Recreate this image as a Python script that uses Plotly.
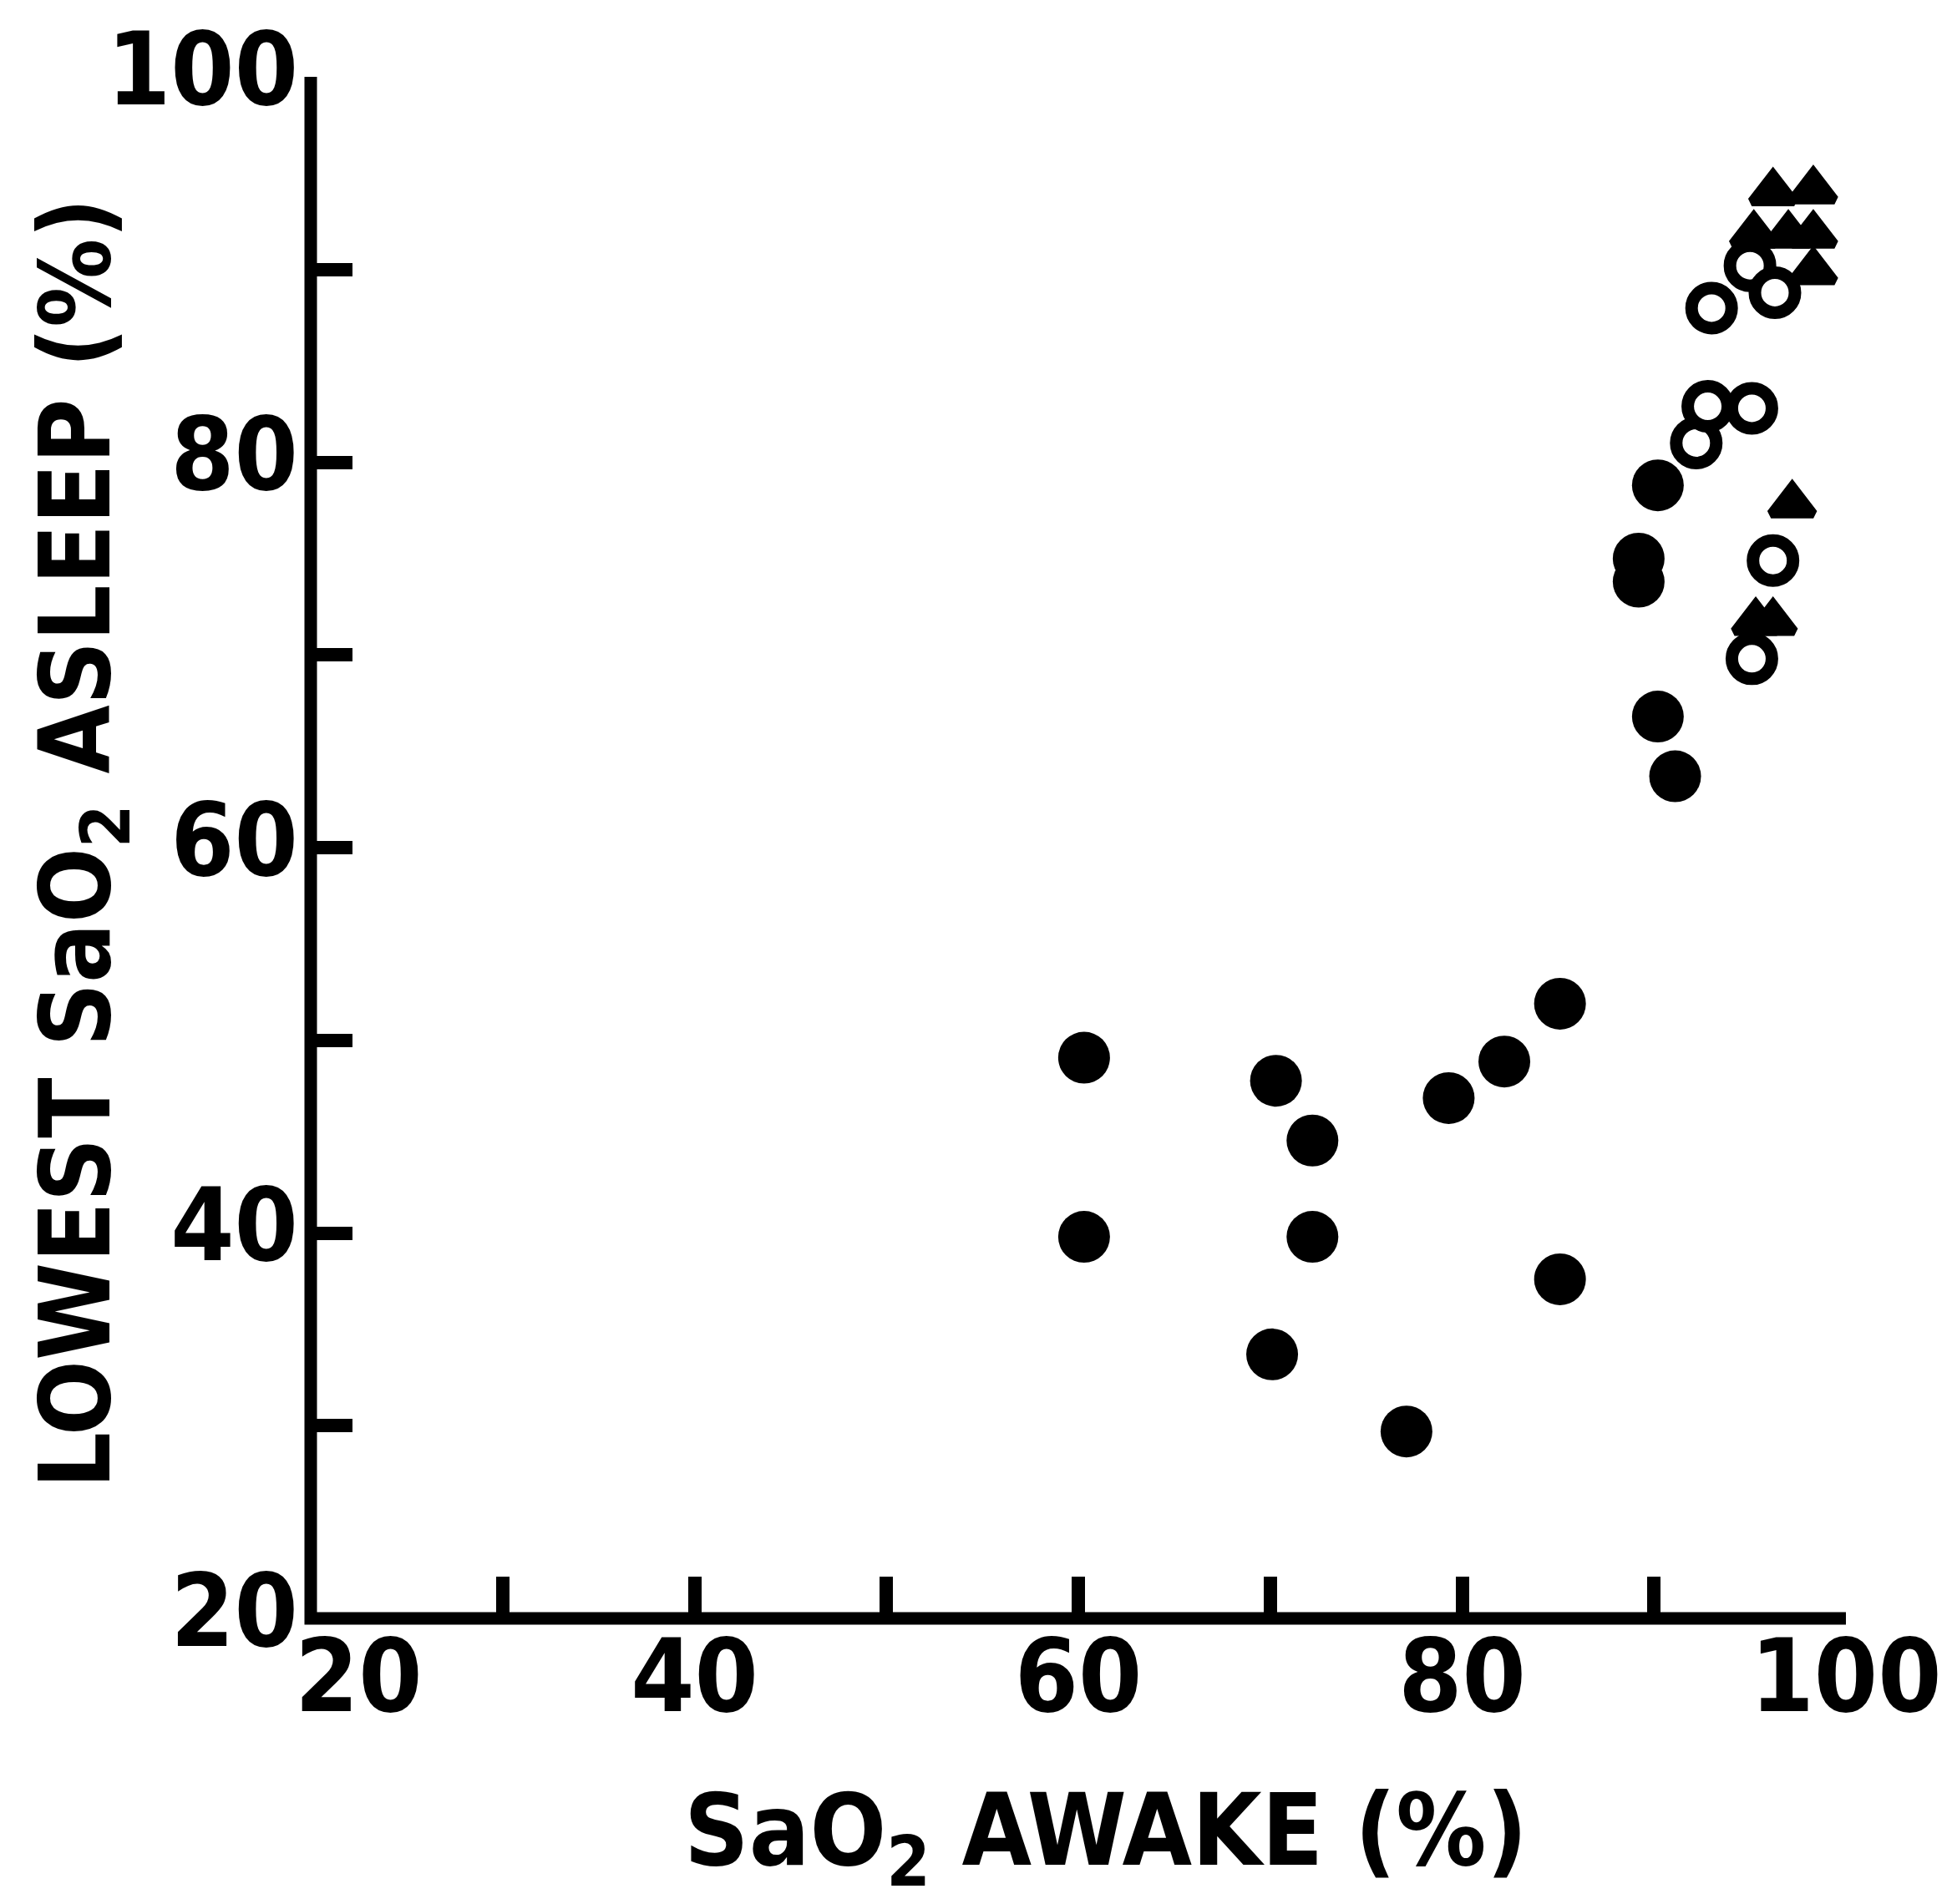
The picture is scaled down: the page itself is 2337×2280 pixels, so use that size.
import plotly.graph_objects as go

# Filled circles
filled_x = [60.3, 60.3, 70.3, 72.2, 72.2, 70.1, 77.1, 79.3, 82.2, 85.1, 85.1,
            90.2, 89.2, 89.2, 90.2, 91.1]
filled_y = [49.1, 39.8, 47.9, 44.8, 39.8, 33.7, 29.7, 47.0, 48.9, 51.9, 37.6,
            78.8, 75.0, 73.8, 66.8, 63.7]

# Open circles
open_x = [93.0, 95.0, 96.3, 92.2, 92.8, 95.1, 96.2, 95.1]
open_y = [88.0, 90.2, 88.8, 81.0, 82.9, 82.8, 74.9, 69.8]

# Filled triangles
tri_x = [96.2, 98.3, 95.2, 97.0, 98.3, 98.3, 97.2, 95.3, 96.2]
tri_y = [94.0, 94.1, 91.8, 91.8, 91.8, 89.9, 77.8, 71.7, 71.7]

major_ticks = [20, 40, 60, 80, 100]
x_labels = ["\u00a0\u00a0\u00a020", "40", "60", "80", "100"]
y_labels = ["20", "40", "60", "80", "100"]
minor_ticks = [30, 50, 70, 90]
axis_min, axis_max = 20, 100

x_title = "SaO<sub>2</sub> AWAKE (%)"
y_title = "LOWEST SaO<sub>2</sub> ASLEEP (%)"

FONT = "DejaVu Sans Condensed, Liberation Sans Narrow, Liberation Sans, Arial, sans-serif"

fig = go.Figure()
fig.add_trace(go.Scatter(
    x=filled_x, y=filled_y, mode="markers",
    marker=dict(symbol="circle", size=62, color="black", line=dict(width=0)),
    cliponaxis=False, hoverinfo="skip"))
fig.add_trace(go.Scatter(
    x=open_x, y=open_y, mode="markers",
    marker=dict(symbol="circle", size=48, color="white",
                line=dict(width=15, color="black")),
    cliponaxis=False, hoverinfo="skip"))
fig.add_trace(go.Scatter(
    x=tri_x, y=tri_y, mode="markers",
    marker=dict(symbol="triangle-up", size=44, color="black",
                line=dict(width=11, color="black")),
    cliponaxis=False, hoverinfo="skip"))

axis_common = dict(
    range=[axis_min, axis_max], tickmode="array", tickvals=major_ticks,
    ticks="inside", ticklen=50, tickwidth=16, tickcolor="black",
    minor=dict(tickmode="array", tickvals=minor_ticks, ticks="inside",
               ticklen=50, tickwidth=16, tickcolor="black", showgrid=False),
    showline=False, showgrid=False, zeroline=False, fixedrange=True,
    ticklabeloverflow="allow",
    tickfont=dict(family=FONT, size=122, color="black", weight="bold"),
)

fig.update_xaxes(**axis_common, ticktext=x_labels, ticklabelstandoff=-12)
fig.update_yaxes(**axis_common, ticktext=y_labels, ticklabelstandoff=14,
                 ticklabelshift=-10)

# L-shaped axis frame along the plot-area edges (paper coords are unclipped)
fig.add_shape(type="path", xref="paper", yref="paper",
              path="M 0 1 L 0 0 L 1 0",
              line=dict(color="black", width=15), layer="above")

fig.add_annotation(text=x_title, xref="paper", yref="paper", x=0.518, y=-0.142,
                   showarrow=False, xanchor="center", yanchor="middle",
                   font=dict(family=FONT, size=120, color="black", weight="bold"))
fig.add_annotation(text=y_title, xref="paper", yref="paper", x=-0.149, y=0.503,
                   showarrow=False, xanchor="center", yanchor="middle", textangle=-90,
                   font=dict(family=FONT, size=118, color="black", weight="bold"))

fig.update_layout(
    width=2337, height=2280,
    margin=dict(l=372, r=121, t=92, b=342),
    paper_bgcolor="white", plot_bgcolor="white",
    showlegend=False,
)

fig.write_html("out.html")
